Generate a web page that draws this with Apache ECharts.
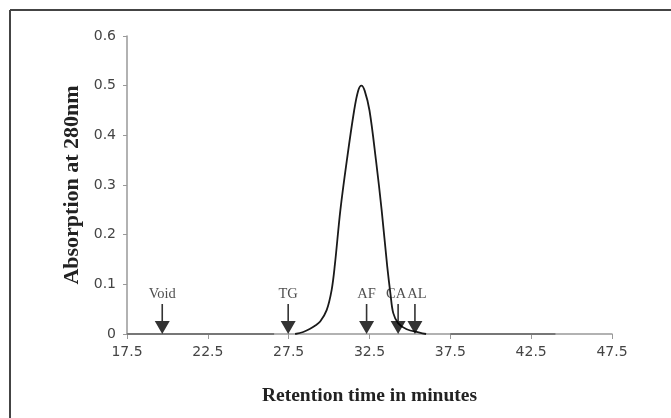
<!DOCTYPE html>
<html><head><meta charset="utf-8">
<script src="https://cdn.jsdelivr.net/npm/echarts@6/dist/echarts.min.js"></script>
<style>html,body{margin:0;padding:0;background:#fff}#c{width:671px;height:418px}</style>
</head><body><div id="c"></div>
<script>
const xTicks = [17.5, 22.5, 27.5, 32.5, 37.5, 42.5, 47.5];
const baselineLeft = [[17.5, 0], [26.6, 0]];
const baselineRight = [[37.5, 0], [44.0, 0]];
const peakX = [27.9, 28.4, 28.8, 29.15, 29.45, 29.85, 30.16, 30.36, 30.7, 31.1, 31.55, 31.8, 32.0, 32.2, 32.5, 32.9, 33.25, 33.6, 33.8, 33.97, 34.28, 34.8, 35.6, 36.0];
const peakY = [0, 0.004, 0.010, 0.017, 0.025, 0.048, 0.089, 0.14, 0.25, 0.35, 0.45, 0.49, 0.5, 0.49, 0.45, 0.35, 0.25, 0.135, 0.08, 0.042, 0.0215, 0.0095, 0.003, 0];
const markerNames = ['Void', 'TG', 'AF', 'CA', 'AL'];
const markerX = [19.68, 27.47, 32.32, 34.27, 35.31];

const peak = peakX.map((x, i) => [x, peakY[i]]);
const labelNudge = { CA: [-2, 0], AL: [2, 0] };
const markers = markerX.map((x, i) => ({
  value: [x, 0], name: markerNames[i],
  label: { offset: labelNudge[markerNames[i]] || [0, 0] }
}));

const chart = echarts.init(document.getElementById('c'));
chart.setOption({
  animation: false,
  backgroundColor: '#fff',
  grid: { left: 127, right: 59, top: 36, bottom: 84 },
  graphic: [
    { type: 'line', shape: { x1: 10, y1: 10, x2: 671, y2: 10 }, style: { stroke: '#444', lineWidth: 2 } },
    { type: 'line', shape: { x1: 10, y1: 10, x2: 10, y2: 418 }, style: { stroke: '#444', lineWidth: 2 } }
  ],
  xAxis: {
    type: 'value', min: 17.5, max: 47.5,
    name: 'Retention time in minutes', nameLocation: 'middle', nameGap: 52,
    nameTextStyle: { fontFamily: 'Liberation Serif', fontWeight: 'bold', fontSize: 19.5, color: '#222' },
    axisLine: { lineStyle: { color: '#999', width: 1.5 } },
    axisTick: { show: true, length: 5, lineStyle: { color: '#999' }, customValues: xTicks },
    axisLabel: { customValues: xTicks, fontFamily: 'DejaVu Sans', fontSize: 14, color: '#444', margin: 11,
      formatter: v => v.toFixed(1) },
    splitLine: { show: false }
  },
  yAxis: {
    type: 'value', min: 0, max: 0.6, interval: 0.1,
    name: 'Absorption at 280nm', nameLocation: 'middle', nameGap: 43,
    nameTextStyle: { fontFamily: 'Liberation Serif', fontWeight: 'bold', fontSize: 22, color: '#222' },
    axisLine: { show: true, lineStyle: { color: '#999', width: 1.5 } },
    axisTick: { show: true, length: 4, lineStyle: { color: '#999' } },
    axisLabel: { fontFamily: 'DejaVu Sans', fontSize: 14, color: '#444', margin: 11,
      formatter: v => v === 0 ? '0' : v.toFixed(1) },
    splitLine: { show: false }
  },
  series: [
    { type: 'line', data: baselineLeft, symbol: 'none', lineStyle: { color: '#777', width: 2 }, z: 3 },
    { type: 'line', data: baselineRight, symbol: 'none', lineStyle: { color: '#777', width: 2 }, z: 3 },
    { type: 'line', data: peak, symbol: 'none', smooth: 0.35, lineStyle: { color: '#1a1a1a', width: 1.8 }, z: 4 },
    { type: 'scatter', data: markers, z: 5,
      symbol: 'path://M6.7,0 L8.3,0 L8.3,17 L15,17 L7.5,30 L0,17 L6.7,17 Z',
      symbolSize: [15, 30], symbolOffset: [0, -15],
      itemStyle: { color: '#000' },
      label: { show: true, position: 'top', distance: 2, formatter: p => p.name,
        fontFamily: 'Liberation Serif', fontSize: 14.5, color: '#222' } }
  ]
});
</script></body></html>
